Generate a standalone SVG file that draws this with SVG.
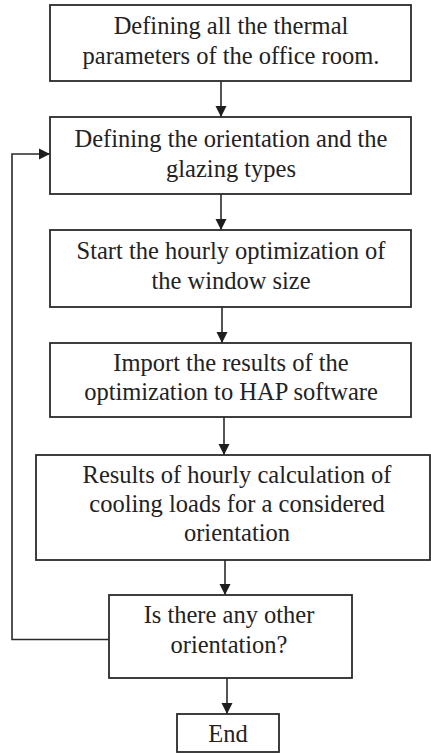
<svg xmlns="http://www.w3.org/2000/svg" width="431" height="753" viewBox="0 0 431 753">
  <style>
    .box { fill: #ffffff; stroke: #2a2a2a; stroke-width: 1.8; }
    .lbl { font-family: "Liberation Serif", "Times New Roman", serif; font-size: 24.5px; fill: #222222; text-anchor: middle; }
    .wire { fill: none; stroke: #2a2a2a; stroke-width: 1.6; }
  </style>
  <defs>
    <marker id="arrow" viewBox="0 0 10 10" refX="10" refY="5" markerWidth="7" markerHeight="7" orient="auto" markerUnits="strokeWidth">
      <path d="M0,0 L10,5 L0,10 z" fill="#1e1e1e"/>
    </marker>
  </defs>
  <rect width="431" height="753" fill="#ffffff"/>

  <!-- flow arrows and the loop-back line -->
  <g id="connectors">
    <line class="wire" x1="221" y1="81" x2="221" y2="117" marker-end="url(#arrow)"/>
    <line class="wire" x1="221" y1="194" x2="221" y2="230" marker-end="url(#arrow)"/>
    <line class="wire" x1="222" y1="307" x2="222" y2="343" marker-end="url(#arrow)"/>
    <line class="wire" x1="224" y1="417" x2="224" y2="455" marker-end="url(#arrow)"/>
    <line class="wire" x1="225" y1="560" x2="225" y2="595" marker-end="url(#arrow)"/>
    <line class="wire" x1="227" y1="678" x2="227" y2="714" marker-end="url(#arrow)"/>
    <polyline class="wire" points="109,639.5 12,639.5 12,154 50,154" marker-end="url(#arrow)"/>
  </g>

  <g id="n1">
    <rect class="box" x="50" y="5" width="361" height="76"/>
    <text class="lbl" x="231" y="34">Defining all the thermal</text>
    <text class="lbl" x="231" y="64">parameters of the office room.</text>
  </g>
  <g id="n2">
    <rect class="box" x="50" y="117" width="361" height="77"/>
    <text class="lbl" x="231" y="147">Defining the orientation and the</text>
    <text class="lbl" x="231" y="177">glazing types</text>
  </g>
  <g id="n3">
    <rect class="box" x="50" y="230" width="361" height="77"/>
    <text class="lbl" x="231" y="259">Start the hourly optimization of</text>
    <text class="lbl" x="231" y="289">the window size</text>
  </g>
  <g id="n4">
    <rect class="box" x="50" y="343" width="361" height="74"/>
    <text class="lbl" x="231" y="371">Import the results of the</text>
    <text class="lbl" x="231" y="400">optimization to HAP software</text>
  </g>
  <g id="n5">
    <rect class="box" x="36" y="455" width="394" height="105"/>
    <text class="lbl" x="237" y="483">Results of hourly calculation of</text>
    <text class="lbl" x="237" y="512">cooling loads for a considered</text>
    <text class="lbl" x="237" y="541">orientation</text>
  </g>
  <g id="n6">
    <rect class="box" x="109" y="595" width="243" height="83"/>
    <text class="lbl" x="229" y="623">Is there any other</text>
    <text class="lbl" x="229" y="653">orientation?</text>
  </g>
  <g id="n7">
    <rect class="box" x="177" y="714" width="102" height="38"/>
    <text class="lbl" x="228" y="742">End</text>
  </g>
</svg>
